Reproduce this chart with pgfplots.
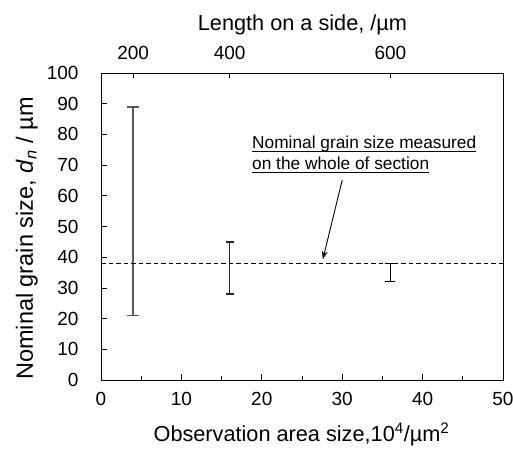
\documentclass[border=0pt]{standalone}
\usepackage{pgfplots}
\pgfplotsset{compat=1.18}
\usetikzlibrary{arrows.meta}
\usepackage{fontspec}
\setmainfont{Liberation Sans}
\begin{document}
\begin{tikzpicture}
\path[use as bounding box] (-101pt,-70pt) rectangle (412pt,380pt);
\begin{axis}[
  at={(0pt,0pt)}, anchor=south west,
  scale only axis, width=402pt, height=307pt,
  xmin=0, xmax=50, ymin=0, ymax=100,
  xtick distance=10, ytick distance=10,
  minor x tick num=1,
  xtick pos=bottom, ytick pos=left,
  tick align=inside,
  major tick length=6pt, minor tick length=4pt,
  axis line style={line width=0.9pt},
  every tick/.style={line width=0.8pt, black},
  /pgf/number format/assume math mode=true,
  tick label style={font=\fontsize{19}{22}\selectfont},
  yticklabel style={xshift=-19pt},
  xticklabel style={yshift=-9pt},
  clip=false,
]
\addplot[black!65, line width=1.8pt, mark=none,
  error bars/.cd, y dir=both, y explicit,
  error bar style={black!65, line width=1.8pt},
  error mark options={rotate=90, mark size=6pt, line width=1.6pt, black!65}]
  coordinates {(4,55) +- (0,34)};
\addplot[black!85, line width=1.5pt, mark=none,
  error bars/.cd, y dir=both, y explicit,
  error bar style={black!85, line width=1.5pt},
  error mark options={rotate=90, mark size=4pt, line width=1.5pt, black!85}]
  coordinates {(16,36.5) +- (0,8.5)};
\addplot[black, line width=1pt, mark=none,
  error bars/.cd, y dir=both, y explicit,
  error bar style={black, line width=1pt},
  error mark options={rotate=90, mark size=5pt, line width=1pt, black}]
  coordinates {(36,35) +- (0,3)};
\addplot[black, line width=0.9pt, dash pattern=on 4.5pt off 3pt, mark=none]
  coordinates {(0,38) (50,38)};
\draw[-{Stealth[length=8pt,width=6pt]}, line width=0.9pt] (axis cs:30.0,65.1) -- (axis cs:27.6,39.4);
\end{axis}
\begin{axis}[
  at={(0pt,0pt)}, anchor=south west,
  scale only axis, width=402pt, height=307pt,
  xmin=0, xmax=50, ymin=0, ymax=100,
  axis x line*=top, axis y line=none,
  xtick={4,16,36}, xticklabels={200,400,600},
  tick align=inside, major tick length=5pt,
  every tick/.style={line width=0.8pt, black},
  axis line style={line width=0.9pt},
  tick label style={font=\fontsize{19}{22}\selectfont},
  xticklabel style={yshift=10pt},
]
\end{axis}
\node[anchor=base, font=\fontsize{21.7}{26}\selectfont] at (201.5pt,349pt) {Length on a side, /µm};
\node[anchor=base, font=\fontsize{21.7}{26}\selectfont] at (200.5pt,-61pt) {Observation area size,10\textsuperscript{4}/µm\textsuperscript{2}};
\node[anchor=base west, rotate=90, inner sep=0pt, font=\fontsize{23.5}{28}\selectfont] at (-68pt,0pt) {Nominal grain size, \textit{d}\textsubscript{\textit{n}} / µm};
\node[anchor=base west, inner sep=0pt, font=\fontsize{17.3}{20}\selectfont] (l1) at (151pt,231pt) {Nominal grain size measured};
\node[anchor=base west, inner sep=0pt, font=\fontsize{17.3}{20}\selectfont] (l2) at (151pt,210pt) {on the whole of section};
\draw[line width=0.9pt] ([yshift=-2.5pt]l1.base west) -- ([yshift=-2.5pt]l1.base east);
\draw[line width=0.9pt] ([yshift=-2.5pt]l2.base west) -- ([yshift=-2.5pt]l2.base east);
\end{tikzpicture}
\end{document}
